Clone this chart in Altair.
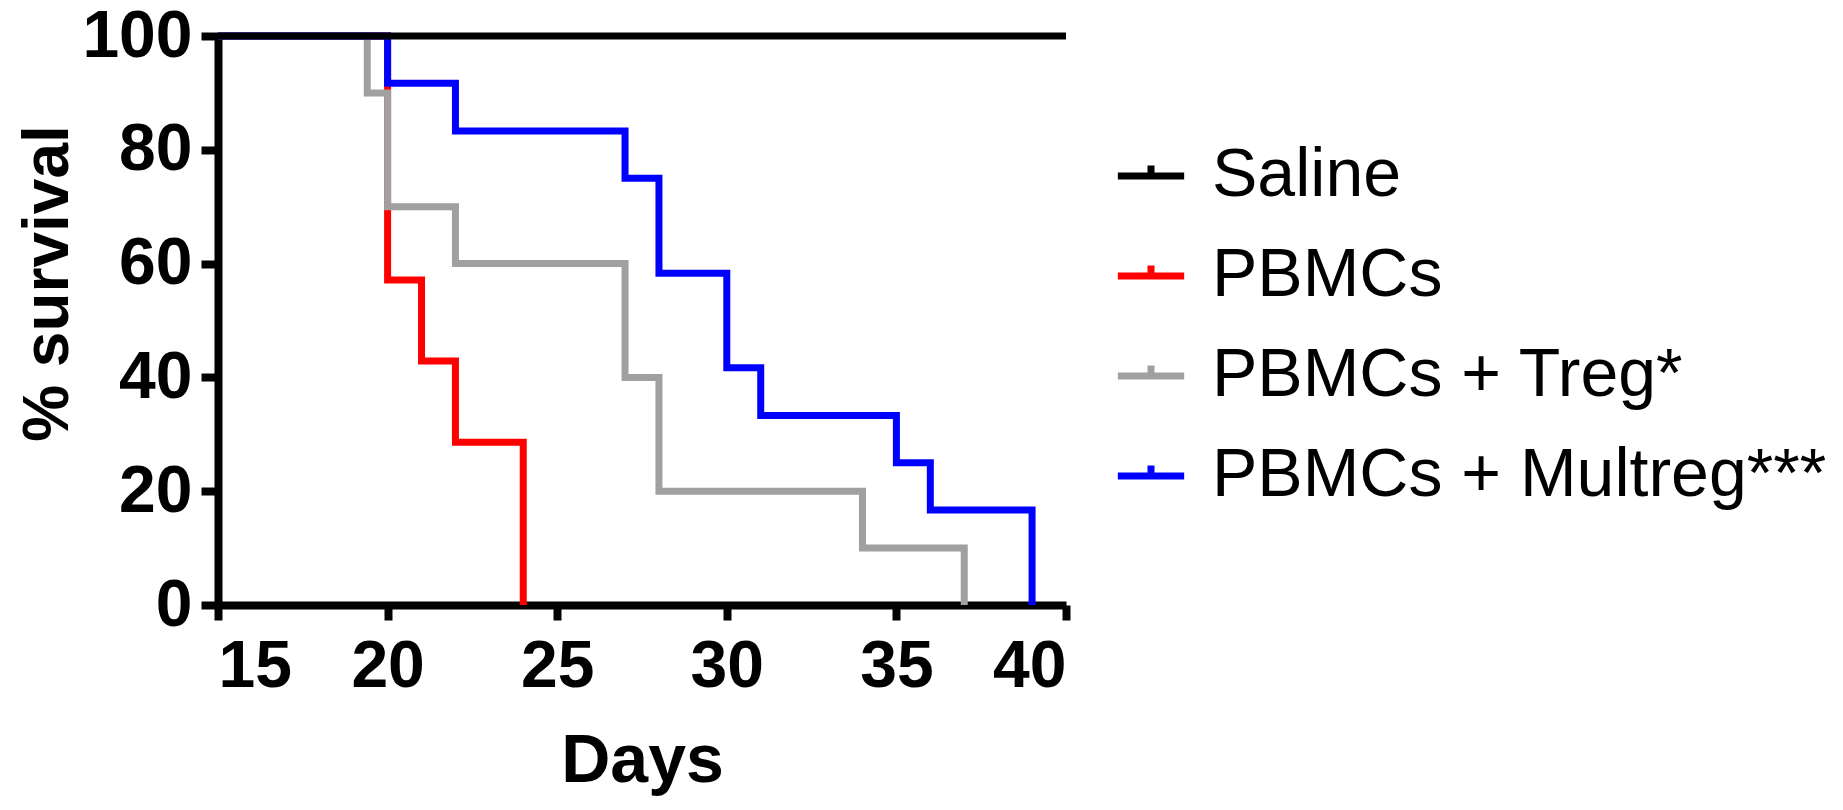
import altair as alt
import pandas as pd

# Series (Kaplan-Meier step curves)
series_names = ["Saline", "PBMCs", "PBMCs + Treg*", "PBMCs + Multreg***"]
series_colors = ["#000000", "#FF0000", "#A0A0A0", "#0000FF"]

saline_days = [15, 40]
saline_surv = [100, 100]

pbmc_days = [15, 20, 21, 22, 24]
pbmc_surv = [100, 57.1, 42.9, 28.6, 0]

treg_days = [15, 19.4, 20, 22, 27, 28, 34, 37]
treg_surv = [100, 90, 70, 60, 40, 20, 10, 0]

mult_days = [15, 20, 22, 27, 28, 30, 31, 35, 36, 39]
mult_surv = [100, 91.7, 83.3, 75, 58.3, 41.7, 33.3, 25, 16.7, 0]

x_ticks = [15, 20, 25, 30, 35, 40]
y_ticks = [0, 20, 40, 60, 80, 100]

rows = []
for name, d, s in zip(series_names,
                      [saline_days, pbmc_days, treg_days, mult_days],
                      [saline_surv, pbmc_surv, treg_surv, mult_surv]):
    for i, (a, b) in enumerate(zip(d, s)):
        rows.append({"series": name, "day": a, "surv": b, "i": i})
df = pd.DataFrame(rows)

FONT = "Liberation Sans"

color = alt.Color(
    "series:N",
    scale=alt.Scale(domain=series_names, range=series_colors),
    title=None,
    legend=alt.Legend(
        orient="none",
        legendX=896,
        legendY=103,
        padding=0,
        symbolType="M-1,0H1M0,0V-0.32",
        symbolSize=4400,
        symbolStrokeWidth=7,
        symbolOpacity=1,
        labelFont=FONT,
        labelFontSize=68,
        labelColor="#000000",
        labelOffset=24,
        rowPadding=29,
        labelLimit=1000,
    ),
)

x = alt.X(
    "day:Q",
    scale=alt.Scale(domain=[15, 40], nice=False, zero=False),
    axis=alt.Axis(
        values=x_ticks,
        title="Days",
        titleFont=FONT,
        titleFontSize=68,
        titleFontWeight="bold",
        titleColor="#000000",
        titlePadding=28,
        labelFont=FONT,
        labelFontSize=66,
        labelFontWeight="bold",
        labelColor="#000000",
        labelPadding=14,
        tickSize=15,
        grid=False,
    ),
)

y = alt.Y(
    "surv:Q",
    scale=alt.Scale(domain=[0, 100], nice=False),
    axis=alt.Axis(
        values=y_ticks,
        title="% survival",
        titleFont=FONT,
        titleFontSize=64,
        titleFontWeight="bold",
        titleColor="#000000",
        titleAngle=270,
        titleAlign="center",
        titleBaseline="alphabetic",
        titleX=-151,
        titleY=247,
        labelFont=FONT,
        labelFontSize=66,
        labelFontWeight="bold",
        labelColor="#000000",
        labelPadding=9,
        tickSize=17,
        grid=False,
    ),
)

layers = []
for name in ["PBMCs", "PBMCs + Treg*", "PBMCs + Multreg***", "Saline"]:
    layers.append(
        alt.Chart(df)
        .transform_filter(alt.datum.series == name)
        .mark_line(interpolate="step-after", strokeWidth=7, strokeJoin="miter", strokeCap="butt")
        .encode(x=x, y=y, color=color, order="i:Q")
    )

chart = (
    alt.layer(*layers)
    .properties(
        width=848,
        height=569,
        autosize=alt.AutoSizeParams(type="none"),
        padding={"left": 210, "top": 28, "right": 760, "bottom": 196},
    )
    .configure_view(stroke=None)
    .configure_axis(
        domainColor="#000000",
        domainWidth=8,
        tickColor="#000000",
        tickWidth=8,
    )
)

chart.save("out.html", embed_options={"renderer": "svg", "actions": False})
